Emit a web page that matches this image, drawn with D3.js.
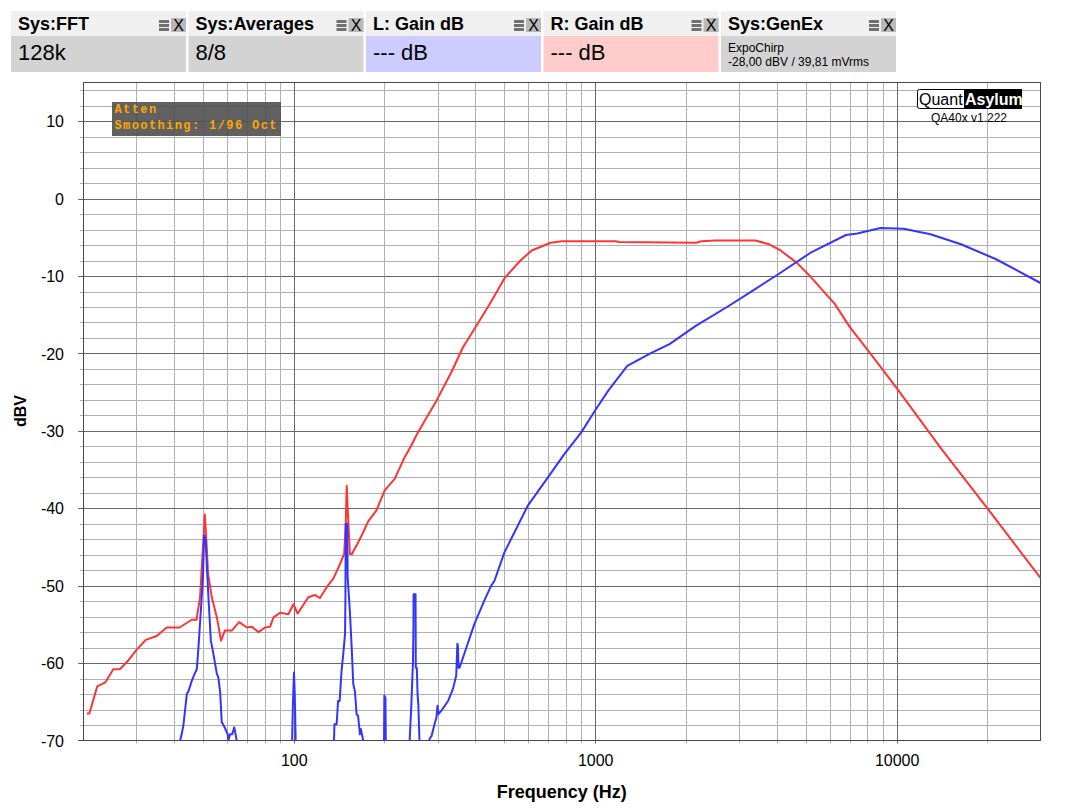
<!DOCTYPE html>
<html><head><meta charset="utf-8">
<script src="https://cdn.jsdelivr.net/npm/d3@7"></script>
<style>
body{margin:0;background:#fff;}
svg{display:block;font-family:"Liberation Sans",Arial,sans-serif;}
</style>
</head><body>
<svg id="c" width="1083" height="812"></svg>
<script>
// ---------- data ----------
const redFreq = [20.6,21.0,22.3,23.7,25.2,26.5,28.2,30.1,32.3,35.1,37.9,41.8,45.9,47.6,48.9,50.0,50.7,51.3,52,53.5,55.6,57.4,59.1,62.3,65.9,69.9,72.6,76.4,80.3,83.5,85.7,90.1,96.0,99.8,103.1,106.3,111.8,117.6,122.2,128.6,135.3,142.4,147,148.8,149.9,151,153.6,156,163.7,170,176.6,187.9,200.4,216.2,233.4,245.5,255,272,297.6,333.6,364.4,404,447,502,565,616,711,776,1170,1200,2162,2250,2500,3400,3775,4120,4640,5070,6230,6995,8210,10060,14050,20000,30000];
const redDb   = [-66.5,-66.5,-63.0,-62.5,-60.8,-60.8,-59.7,-58.3,-57.0,-56.5,-55.4,-55.4,-54.4,-54.4,-51.5,-45,-40.8,-44,-48.5,-51.5,-54.1,-57.1,-55.8,-55.8,-54.7,-55.4,-55.3,-56.0,-55.4,-55.3,-54.1,-53.5,-53.7,-52.4,-53.6,-52.8,-51.5,-51.2,-51.6,-50.2,-49.1,-47.2,-45.9,-42,-37.1,-40,-45.9,-45.9,-44.4,-43.1,-41.7,-40.3,-37.7,-36.2,-33.4,-31.9,-30.6,-28.7,-26.1,-22.4,-19.2,-16.4,-13.6,-10.2,-8.0,-6.7,-5.7,-5.5,-5.5,-5.6,-5.7,-5.5,-5.4,-5.4,-5.9,-6.7,-8.2,-9.7,-13.6,-16.6,-20.1,-24.6,-32.3,-40.0,-49.0];

const blueFreq = [41.5,42.0,42.5,43.1,44.2,44.8,45.9,46.9,47.7,48.3,49.2,50.0,50.4,51.0,51.4,52.2,53.1,53.8,55.6,56.2,57.0,57.7,59.0,60.4,60.7,61.5,62.5,63.5,64.7,65,98,98.8,99.3,100.2,100.8,101.5,102,135,136,136.5,138.8,140.3,142,144.1,146,148,148.4,148.8,150.5,151,153.6,155.7,157.6,159.5,160.5,161.6,163.5,165.8,167,170,171,198.5,199.3,199.8,201.5,202,202.5,241,242.4,245.5,248.7,249.5,249.8,253.6,254,256,257.5,259,261.3,262,280,282,286.7,292.3,297.6,299.9,302,309.5,325,337.6,346,349,350.5,352,355,368,397,429,452,463,500,597,697,790,899,998,1105,1278,1524,1764,2162,2737,3265,4002,5224,6790,7406,8836,10550,12950,16350,21290,30000];
const blueDb   = [-80,-70,-69.2,-67.9,-64.0,-63.6,-62.3,-61.4,-60.8,-58.0,-53.2,-48.9,-43.5,-44,-46.8,-51.9,-57.1,-58.2,-61.4,-61.8,-63.7,-67.6,-68.3,-69.2,-70,-69.2,-69.2,-68.3,-70,-80,-80,-70,-65.8,-61.2,-64.0,-70,-80,-80,-70,-67.9,-67.9,-64.9,-64.9,-61.0,-58.8,-56.2,-51.9,-42.0,-42.0,-48.9,-53.4,-58.0,-62.7,-63.6,-64.9,-66.6,-66.8,-69.2,-68.5,-70,-80,-80,-70,-64.2,-64.5,-70,-80,-80,-70,-65.5,-59.7,-55.4,-51.1,-51.1,-60.6,-60.6,-64.0,-65.3,-70,-80,-80,-69.8,-69.4,-68.1,-67.0,-65.5,-66.6,-66.1,-64.9,-63.3,-61.6,-57.5,-57.8,-60.6,-60.6,-58.8,-55.0,-51.9,-50.0,-49.4,-45.7,-39.7,-36.0,-33.0,-30.2,-27.4,-24.8,-21.6,-20.0,-18.8,-16.4,-14.0,-12.1,-9.9,-6.9,-4.7,-4.5,-3.8,-3.9,-4.6,-5.9,-7.8,-10.9];

const xTickLabels = [100,1000,10000];
const yTickLabels = [10,0,-10,-20,-30,-40,-50,-60,-70];

const panelTitles = ["Sys:FFT","Sys:Averages","L: Gain dB","R: Gain dB","Sys:GenEx"];
const panelValues = ["128k","8/8","--- dB","--- dB",""];
const panelColors = ["#d3d3d3","#d3d3d3","#ccccff","#ffcccc","#d3d3d3"];
const genExLines  = ["ExpoChirp","-28,00 dBV / 39,81 mVrms"];
const noteLines   = ["Atten","Smoothing: 1/96 Oct"];

// ---------- layout ----------
const svg = d3.select("#c");
const L = 83, R = 1040.5, T = 82.5, B = 740.5;
const x = d3.scaleLog().domain([20,30000]).range([L,R]);
const y = d3.scaleLinear().domain([-70,15]).range([B,T]);
const px = v => Math.round(v) + 0.5;

// header panels
const pw = 175, px0 = 11, pgap = 2.5;
panelTitles.forEach((t,i)=>{
  const gx = px0 + i*(pw+pgap);
  const g = svg.append("g").attr("transform",`translate(${gx},11)`);
  g.append("rect").attr("width",pw).attr("height",25).attr("fill","#f0f0f0");
  g.append("rect").attr("y",25).attr("width",pw).attr("height",36).attr("fill",panelColors[i]);
  g.append("text").attr("x",7).attr("y",19).attr("font-size",18).attr("font-weight","bold").attr("fill","#000").text(t);
  [0,4,8].forEach(o=>g.append("rect").attr("x",pw-27).attr("y",9+o).attr("width",10).attr("height",3).attr("fill","#707070"));
  g.append("rect").attr("x",pw-15).attr("y",7).attr("width",15).attr("height",14).attr("fill","#b8b8b8");
  g.append("text").attr("x",pw-7.5).attr("y",19.5).attr("text-anchor","middle").attr("font-size",16).attr("fill","#000").text("X");
  if(panelValues[i]) {
    g.append("text").attr("x",7).attr("y",49).attr("font-size",22).attr("fill","#000").text(panelValues[i]);
  } else {
    genExLines.forEach((s,j)=>g.append("text").attr("x",7).attr("y",41+j*14).attr("font-size",12).attr("fill","#000").text(s));
  }
});

// grid
const gridMinorX = [];
[10,100,1000,10000].forEach(d=>{for(let k=2;k<=9;k++){const v=k*d; if(v>20&&v<30000) gridMinorX.push(v);}});
const gridMinorY = d3.range(-68,15,2).filter(v=>v%10!==0);
const gridMajorY = d3.range(-60,15,10);

const grid = svg.append("g");
grid.selectAll(".vmin").data(gridMinorX).join("line")
  .attr("x1",d=>px(x(d))).attr("x2",d=>px(x(d))).attr("y1",T).attr("y2",B+3)
  .attr("stroke","#b0b0b0").attr("stroke-width",1);
grid.selectAll(".hmin").data(gridMinorY).join("line")
  .attr("y1",d=>px(y(d))).attr("y2",d=>px(y(d))).attr("x1",L-3).attr("x2",R)
  .attr("stroke","#b0b0b0").attr("stroke-width",1);
grid.selectAll(".vmaj").data(xTickLabels).join("line")
  .attr("x1",d=>px(x(d))).attr("x2",d=>px(x(d))).attr("y1",T).attr("y2",B+3)
  .attr("stroke","#686868").attr("stroke-width",1);
grid.selectAll(".hmaj").data(gridMajorY).join("line")
  .attr("y1",d=>px(y(d))).attr("y2",d=>px(y(d))).attr("x1",L-5).attr("x2",R)
  .attr("stroke","#686868").attr("stroke-width",1);

// border
svg.append("rect").attr("x",L+0.5).attr("y",T).attr("width",R-L-0.5).attr("height",B-T)
  .attr("fill","none").attr("stroke","#484848").attr("stroke-width",1);
svg.append("line").attr("x1",L-5).attr("x2",L).attr("y1",B).attr("y2",B).attr("stroke","#484848");

// axes labels
const yAxis = d3.axisLeft(y).tickValues(yTickLabels).tickSize(0).tickPadding(0).tickFormat(d=>String(d));
const ya = svg.append("g").attr("transform",`translate(${L-19},0)`).call(yAxis);
ya.select(".domain").remove();
ya.selectAll("text").attr("font-size",16).attr("font-family","'Liberation Sans',Arial,sans-serif").attr("fill","#000").attr("dy","0.35em");

const xAxis = d3.axisBottom(x).tickValues(xTickLabels).tickSize(0).tickPadding(0).tickFormat(d=>String(d));
const xa = svg.append("g").attr("transform",`translate(0,${B+14})`).call(xAxis);
xa.select(".domain").remove();
xa.selectAll("text").attr("font-size",16).attr("font-family","'Liberation Sans',Arial,sans-serif").attr("fill","#000").attr("dy","0.71em");

svg.append("text").attr("x",(L+R)/2).attr("y",798).attr("text-anchor","middle")
  .attr("font-size",18).attr("font-weight","bold").text("Frequency (Hz)");
svg.append("text").attr("transform","translate(26,411) rotate(-90)").attr("text-anchor","middle")
  .attr("font-size",16).attr("font-weight","bold").text("dBV");

// curves
svg.append("clipPath").attr("id","pc").append("rect").attr("x",L).attr("y",T).attr("width",R-L).attr("height",B-T);
const line = d3.line().x(d=>x(d[0])).y(d=>y(d[1]));
const plot = svg.append("g").attr("clip-path","url(#pc)");
plot.append("path").attr("d",line(redFreq.map((f,i)=>[f,redDb[i]])))
  .attr("fill","none").attr("stroke","#ff3434").attr("stroke-width",2).attr("stroke-linejoin","round");
plot.append("path").attr("d",line(blueFreq.map((f,i)=>[f,blueDb[i]])))
  .attr("fill","none").attr("stroke","#3434ff").attr("stroke-width",2).attr("stroke-linejoin","round");

// note box (semi-transparent)
const nb = svg.append("g").attr("transform","translate(112,102)");
nb.append("rect").attr("width",169).attr("height",34).attr("fill","#505050").attr("fill-opacity",0.9);
noteLines.forEach((s,i)=>nb.append("text").attr("x",2.5).attr("y",11+i*16)
  .attr("font-family","'Liberation Mono','DejaVu Sans Mono',monospace").attr("font-weight","bold")
  .attr("font-size",12).attr("letter-spacing",1.4).attr("fill","#ffa500").text(s));

// logo
const lg = svg.append("g").attr("transform","translate(917,89)");
lg.append("rect").attr("x",0.5).attr("y",0.5).attr("width",104).attr("height",19).attr("rx",2).attr("fill","#fff").attr("stroke","#000");
lg.append("rect").attr("x",47).attr("y",0).attr("width",58).attr("height",20).attr("fill","#000");
lg.append("text").attr("x",2).attr("y",16).attr("font-size",16).attr("fill","#000").text("Quant");
lg.append("text").attr("x",48).attr("y",16).attr("font-size",16).attr("font-weight","bold").attr("fill","#fff").text("Asylum");
svg.append("text").attr("x",969).attr("y",122).attr("text-anchor","middle").attr("font-size",12).attr("fill","#000").text("QA40x v1.222");
</script>
</body></html>
